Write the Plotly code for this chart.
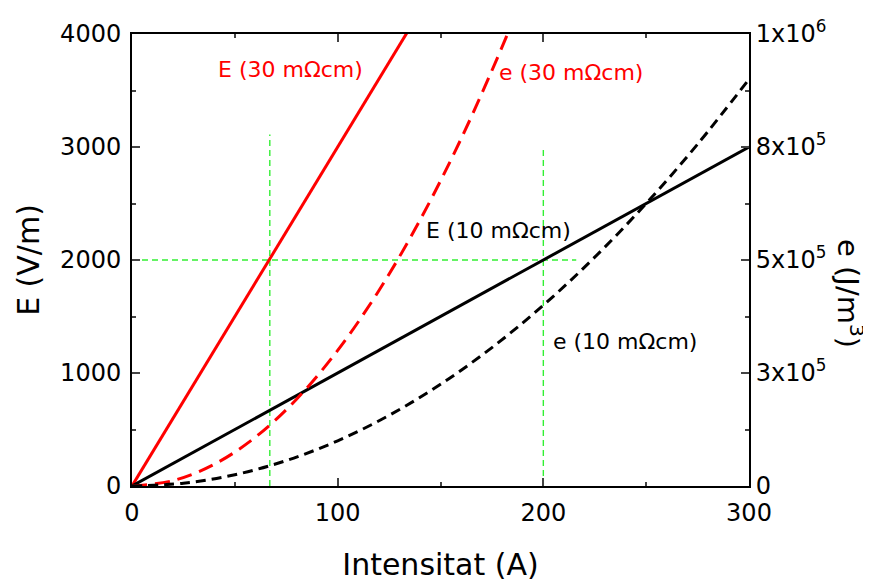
import plotly.graph_objects as go

# Current (A)
I_lin = [0, 300]
E10 = [0, 3000]          # V/m, 10 mOhm cm
I_lin30 = [0, 150]
E30 = [0, 4500]          # V/m, 30 mOhm cm (clipped at 4000)

I_q = [0, 25, 50, 75, 100, 125, 150, 175, 200, 225, 250, 275, 300]
e10 = [0, 6250, 25000, 56250, 100000, 156250, 225000, 306250, 400000, 506250, 625000, 756250, 900000]
I_q30 = [0, 20, 40, 60, 80, 100, 120, 140, 160, 180, 190]
e30 = [0, 12000, 48000, 108000, 192000, 300000, 432000, 588000, 768000, 972000, 1083000]

# guide lines
g1_x = [67, 67]; g1_y = [0, 3110]
g2_x = [200, 200]; g2_y = [0, 2990]
g3_x = [0, 216]; g3_y = [2000, 2000]

x_ticks = [0, 100, 200, 300]
y_ticks = [0, 1000, 2000, 3000, 4000]
y2_ticks = [0, 250000, 500000, 750000, 1000000]
y2_text = ["0", "3x10<sup>5</sup>", "5x10<sup>5</sup>", "8x10<sup>5</sup>", "1x10<sup>6</sup>"]

FONT = "DejaVu Sans"
green = "#33f033"

fig = go.Figure()
for xs, ys in [(g1_x, g1_y), (g2_x, g2_y), (g3_x, g3_y)]:
    fig.add_trace(go.Scatter(x=xs, y=ys, mode="lines", line=dict(color=green, width=1.4, dash="6px,4px"),
                             showlegend=False, hoverinfo="skip"))
fig.add_trace(go.Scatter(x=I_lin30, y=E30, mode="lines", line=dict(color="#ff0000", width=3), showlegend=False))
fig.add_trace(go.Scatter(x=I_lin, y=E10, mode="lines", line=dict(color="black", width=3), showlegend=False))
fig.add_trace(go.Scatter(x=I_q30, y=e30, yaxis="y2", mode="lines", line=dict(color="#ff0000", width=3, dash="15px,8px", shape="spline"), showlegend=False))
fig.add_trace(go.Scatter(x=I_q, y=e10, yaxis="y2", mode="lines", line=dict(color="black", width=3, dash="10px,6px", shape="spline"), showlegend=False))

tickfont = dict(family=FONT, size=24, color="black")
fig.update_layout(
    width=864, height=574,
    margin=dict(l=124, r=123, t=26, b=96),
    paper_bgcolor="white", plot_bgcolor="white",
    font=dict(family=FONT, color="black"),
    xaxis=dict(range=[0, 300], tickvals=x_ticks, ticks="inside", ticklen=8, tickwidth=1.5,
               showline=True, linewidth=2, linecolor="black", mirror="ticks", showgrid=False, zeroline=False,
               minor=dict(ticks="inside", ticklen=4, dtick=50, tickwidth=1.5, showgrid=False),
               tickfont=tickfont, ticklabelstandoff=4, automargin=False,
               title=dict(text="Intensitat (A)", font=dict(family=FONT, size=30), standoff=30)),
    yaxis=dict(range=[0, 4000], tickvals=y_ticks, ticks="inside", ticklen=8, tickwidth=1.5,
               showline=True, linewidth=2, linecolor="black", showgrid=False, zeroline=False,
               minor=dict(ticks="inside", ticklen=4, dtick=500, tickwidth=1.5, showgrid=False),
               tickfont=tickfont, ticklabelstandoff=4, automargin=False,
               title=dict(text="E (V/m)", font=dict(family=FONT, size=30), standoff=12)),
    yaxis2=dict(range=[0, 1000000], overlaying="y", side="right", tickvals=y2_ticks, ticktext=y2_text,
                ticks="inside", ticklen=8, tickwidth=1.5, showline=True, linewidth=2, linecolor="black",
                showgrid=False, zeroline=False, automargin=False,
                minor=dict(ticks="inside", ticklen=4, dtick=125000, tickwidth=1.5, showgrid=False),
                tickfont=tickfont),
)

ann_font = 22
fig.add_annotation(x=77.3, y=3690, text="E (30 mΩcm)", showarrow=False, font=dict(family=FONT, size=ann_font, color="#ff0000"))
fig.add_annotation(x=213.5, y=3655, text="e (30 mΩcm)", showarrow=False, font=dict(family=FONT, size=ann_font, color="#ff0000"))
fig.add_annotation(x=178, y=2257, text="E (10 mΩcm)", showarrow=False, font=dict(family=FONT, size=ann_font, color="black"))
fig.add_annotation(x=239.7, y=1283, text="e (10 mΩcm)", showarrow=False, font=dict(family=FONT, size=ann_font, color="black"))
fig.add_annotation(xref="paper", yref="paper", x=1.12, y=0.427, xshift=48, text="e (J/m<sup>3</sup>)", textangle=90,
                   showarrow=False, font=dict(family=FONT, size=29, color="black"))

fig.write_html("out.html")
